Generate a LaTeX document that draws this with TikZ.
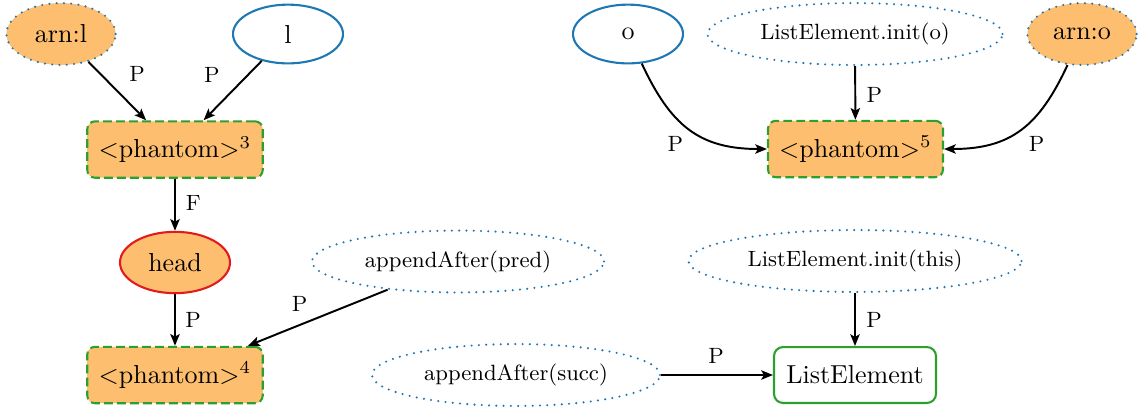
\documentclass[tikz,border=0pt]{standalone}
\usetikzlibrary{shapes.geometric,arrows.meta}

\definecolor{nodeblue}{HTML}{1F77B4}
\definecolor{nodegreen}{HTML}{2CA02C}
\definecolor{nodered}{HTML}{E31A1C}
\definecolor{nodeorange}{HTML}{FDBF6F}

\tikzset{
  small/.style={font=\fontsize{8.5}{10}\selectfont},
  ell/.style={ellipse, inner sep=0pt, line width=0.8pt},
  varnode/.style={ell, draw=nodeblue, minimum width=42.3pt, minimum height=22.6pt},
  callnode/.style={ell, small, draw=nodeblue, line width=0.9pt, line cap=round,
    dash pattern=on 0pt off 2.8pt, minimum height=23.8pt},
  arnnode/.style={ell, fill=nodeorange, draw=nodeblue, line width=0.9pt, line cap=round,
    dash pattern=on 0pt off 2.8pt, minimum width=42pt, minimum height=23.8pt},
  headnode/.style={ell, fill=nodeorange, draw=nodered, minimum width=42.3pt, minimum height=23.6pt},
  phantombox/.style={rectangle, rounded corners=3pt, fill=nodeorange, draw=nodegreen,
    line width=0.8pt, dash pattern=on 3.4pt off 1.6pt, minimum width=67.5pt, minimum height=21.7pt},
  classbox/.style={rectangle, rounded corners=3.5pt, draw=nodegreen, line width=0.8pt,
    minimum width=62.3pt, minimum height=21.5pt},
  edge/.style={line width=0.75pt, -{Stealth[length=4.5pt, width=3.6pt, inset=1pt]}},
  lbl/.style={small, inner sep=0pt},
}

\begin{document}
\begin{tikzpicture}[x=0.3846pt, y=0.3846pt]
  \useasboundingbox (0,0) rectangle (1138,-410);

  % nodes
  \node[arnnode] (arnl) at (61,-34) {arn:l};
  \node[varnode] (l) at (288,-34) {l};
  \node[phantombox] (ph3) at (175,-149.5) {$<$phantom$>^3$};
  \node[headnode] (head) at (175,-262.5) {head};
  \node[phantombox] (ph4) at (175,-375) {$<$phantom$>^4$};
  \node[callnode, minimum width=112.3pt] (pred) at (458,-261.5) {appendAfter(pred)};
  \node[callnode, minimum width=110.8pt] (succ) at (516,-375) {appendAfter(succ)};
  \node[classbox] (le) at (855,-375) {ListElement};
  \node[callnode, minimum width=128.1pt] (initthis) at (855,-261) {ListElement.init(this)};

  \node[varnode] (o) at (628,-34) {o};
  \node[callnode, minimum width=113.5pt] (inito) at (855,-34) {ListElement.init(o)};
  \node[arnnode] (arno) at (1082,-34) {arn:o};
  \node[phantombox, minimum width=67.3pt] (ph5) at (855.5,-149) {$<$phantom$>^5$};

  % connectors
  \draw[edge] (arnl) -- node[lbl, pos=.21, xshift=14pt] {P} (ph3);
  \draw[edge] (l) -- node[lbl, pos=.23, xshift=-14pt] {P} (ph3);
  \draw[edge] (ph3) -- node[lbl, pos=.46, xshift=7pt] {F} (head);
  \draw[edge] (head) -- node[lbl, pos=.49, xshift=7pt] {P} (ph4);
  \draw[edge] (pred) -- node[lbl, pos=.63, yshift=8.2pt] {P} (ph4);
  \draw[edge] (succ) -- node[lbl, pos=.49, yshift=7.3pt] {P} (le);
  \draw[edge] (initthis) -- node[lbl, pos=.5, xshift=7.3pt] {P} (le);
  \draw[edge] (inito) -- node[lbl, pos=.54, xshift=7.3pt] {P} (ph5);
  \draw[edge] (o) to[out=-65, in=180, looseness=1.15] node[lbl, pos=.4, xshift=-1.3pt, yshift=-9pt] {P} (ph5.west);
  \draw[edge] (arno) to[out=-115, in=0, looseness=1.15] node[lbl, pos=.4, xshift=2.1pt, yshift=-9pt] {P} (ph5.east);
\end{tikzpicture}
\end{document}
